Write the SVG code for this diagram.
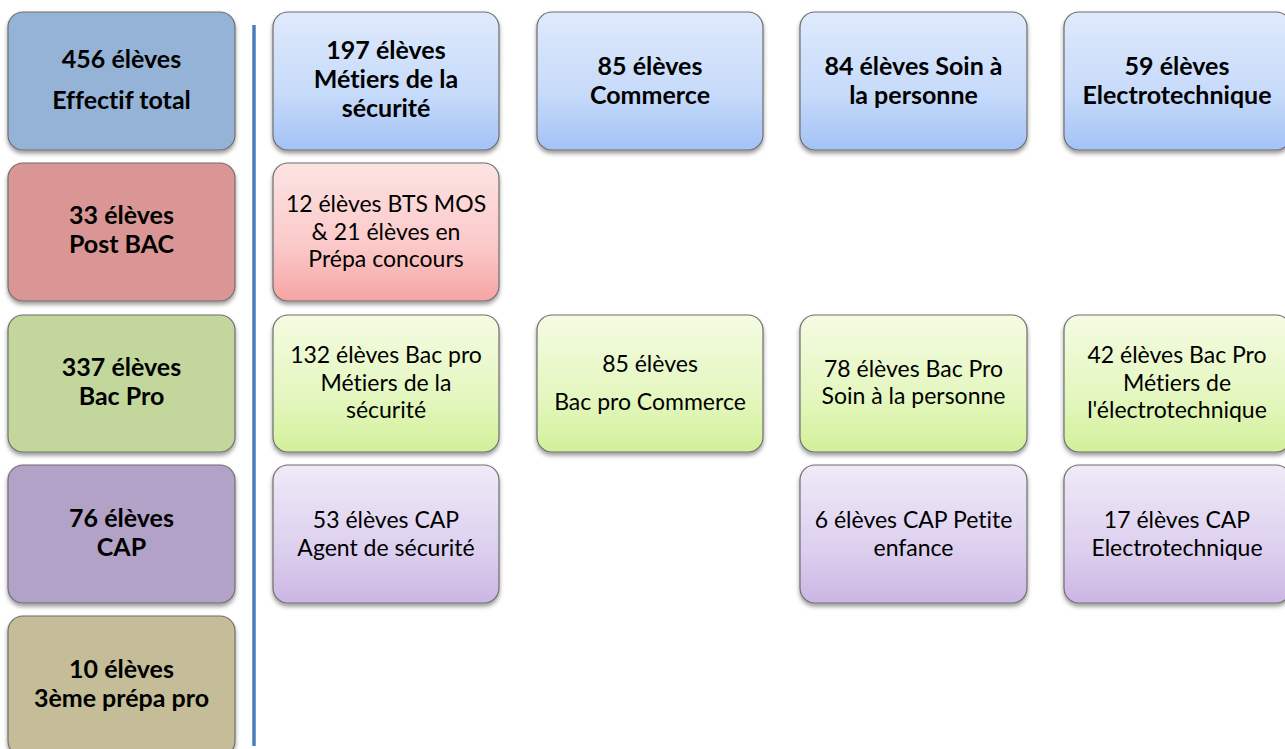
<svg xmlns="http://www.w3.org/2000/svg" width="1285" height="749" viewBox="0 0 1285 749">
<defs>
<style>
.box{stroke:#6e6e6e;stroke-width:1.2;filter:url(#sh)}
.t{font-family:Lato,"Liberation Sans",Arial,sans-serif;font-size:23px;fill:#000;text-anchor:middle;font-variant-ligatures:none}
.b{font-weight:bold;font-size:25px}
</style>
<filter id="sh" x="-10%" y="-10%" width="120%" height="125%">
<feDropShadow dx="0" dy="3" stdDeviation="2" flood-color="#000" flood-opacity="0.4"/>
</filter>
<linearGradient id="gBlue" x1="0" y1="0" x2="0" y2="1"><stop offset="0" stop-color="#dfeafc"/><stop offset="0.6" stop-color="#c6dafa"/><stop offset="1" stop-color="#a3c2f6"/></linearGradient>
<linearGradient id="gRed" x1="0" y1="0" x2="0" y2="1"><stop offset="0" stop-color="#fde3e3"/><stop offset="0.6" stop-color="#fbc9c9"/><stop offset="1" stop-color="#f7a4a4"/></linearGradient>
<linearGradient id="gGreen" x1="0" y1="0" x2="0" y2="1"><stop offset="0" stop-color="#f4fbe2"/><stop offset="0.6" stop-color="#e4f7bf"/><stop offset="1" stop-color="#d2f09a"/></linearGradient>
<linearGradient id="gPurple" x1="0" y1="0" x2="0" y2="1"><stop offset="0" stop-color="#efeaf8"/><stop offset="0.6" stop-color="#ddd0ef"/><stop offset="1" stop-color="#cbb6e4"/></linearGradient>
</defs>
<rect width="1285" height="749" fill="#fff"/>

<g id="connectors">
<line x1="254" y1="25" x2="254" y2="746" stroke="#4a7ebb" stroke-width="3.5"/>
</g>

<g id="n-total"><rect class="box" x="8" y="12" width="227" height="138" rx="15" fill="#95b3d7"/>
<text class="t b" x="121.5" y="68">456 élèves</text><text class="t b" x="121.5" y="109">Effectif total</text></g>
<g id="n-postbac"><rect class="box" x="8" y="163" width="227" height="138" rx="15" fill="#d99694"/>
<text class="t b" x="121.5" y="224">33 élèves</text><text class="t b" x="121.5" y="253">Post BAC</text></g>
<g id="n-bacpro"><rect class="box" x="8" y="315" width="227" height="137" rx="15" fill="#c3d69b"/>
<text class="t b" x="121.5" y="376">337 élèves</text><text class="t b" x="121.5" y="405">Bac Pro</text></g>
<g id="n-cap"><rect class="box" x="8" y="465" width="227" height="138" rx="15" fill="#b3a2c7"/>
<text class="t b" x="121.5" y="527">76 élèves</text><text class="t b" x="121.5" y="556">CAP</text></g>
<g id="n-3eme"><rect class="box" x="8" y="616" width="227" height="140" rx="15" fill="#c4bd97"/>
<text class="t b" x="121.5" y="678">10 élèves</text><text class="t b" x="121.5" y="707">3ème prépa pro</text></g>

<g id="n-secu"><rect class="box" x="273" y="12" width="226" height="138" rx="15" fill="url(#gBlue)"/>
<text class="t b" x="386" y="59">197 élèves</text><text class="t b" x="386" y="88">Métiers de la</text><text class="t b" x="386" y="117">sécurité</text></g>
<g id="n-commerce"><rect class="box" x="537" y="12" width="226" height="138" rx="15" fill="url(#gBlue)"/>
<text class="t b" x="650" y="75">85 élèves</text><text class="t b" x="650" y="104">Commerce</text></g>
<g id="n-soin"><rect class="box" x="800" y="12" width="227" height="138" rx="15" fill="url(#gBlue)"/>
<text class="t b" x="913.5" y="75">84 élèves Soin à</text><text class="t b" x="913.5" y="104">la personne</text></g>
<g id="n-elec"><rect class="box" x="1064" y="12" width="227" height="138" rx="15" fill="url(#gBlue)"/>
<text class="t b" x="1177" y="75">59 élèves</text><text class="t b" x="1177" y="104">Electrotechnique</text></g>

<g id="n-bts"><rect class="box" x="273" y="163" width="226" height="138" rx="15" fill="url(#gRed)"/>
<text class="t" x="386" y="212">12 élèves BTS MOS</text><text class="t" x="386" y="240">&amp; 21 élèves en</text><text class="t" x="386" y="267">Prépa concours</text></g>

<g id="n-bp-secu"><rect class="box" x="273" y="315" width="226" height="137" rx="15" fill="url(#gGreen)"/>
<text class="t" x="386" y="363">132 élèves Bac pro</text><text class="t" x="386" y="391">Métiers de la</text><text class="t" x="386" y="418">sécurité</text></g>
<g id="n-bp-commerce"><rect class="box" x="537" y="315" width="226" height="137" rx="15" fill="url(#gGreen)"/>
<text class="t" x="650" y="372">85 élèves</text><text class="t" x="650" y="410">Bac pro Commerce</text></g>
<g id="n-bp-soin"><rect class="box" x="800" y="315" width="227" height="137" rx="15" fill="url(#gGreen)"/>
<text class="t" x="913.5" y="377">78 élèves Bac Pro</text><text class="t" x="913.5" y="404">Soin à la personne</text></g>
<g id="n-bp-elec"><rect class="box" x="1064" y="315" width="227" height="137" rx="15" fill="url(#gGreen)"/>
<text class="t" x="1177" y="363">42 élèves Bac Pro</text><text class="t" x="1177" y="391">Métiers de</text><text class="t" x="1177" y="418">l'électrotechnique</text></g>

<g id="n-cap-secu"><rect class="box" x="273" y="465" width="226" height="138" rx="15" fill="url(#gPurple)"/>
<text class="t" x="386" y="528">53 élèves CAP</text><text class="t" x="386" y="556">Agent de sécurité</text></g>
<g id="n-cap-pe"><rect class="box" x="800" y="465" width="227" height="138" rx="15" fill="url(#gPurple)"/>
<text class="t" x="913.5" y="528">6 élèves CAP Petite</text><text class="t" x="913.5" y="556">enfance</text></g>
<g id="n-cap-elec"><rect class="box" x="1064" y="465" width="227" height="138" rx="15" fill="url(#gPurple)"/>
<text class="t" x="1177" y="528">17 élèves CAP</text><text class="t" x="1177" y="556">Electrotechnique</text></g>
</svg>
